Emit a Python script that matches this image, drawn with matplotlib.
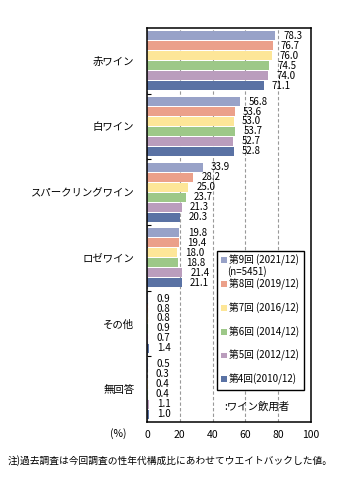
import matplotlib
matplotlib.use("Agg")
import matplotlib.pyplot as plt
from matplotlib.patches import Patch

plt.rcParams['font.family'] = ['Noto Sans CJK JP', 'DejaVu Sans']

categories = ["赤ワイン", "白ワイン", "スパークリングワイン", "ロゼワイン", "その他", "無回答"]
series_names = ["第9回 (2021/12)", "第8回 (2019/12)", "第7回 (2016/12)",
                "第6回 (2014/12)", "第5回 (2012/12)", "第4回(2010/12)"]
colors = ["#98a2c8", "#eba08a", "#fde698", "#9dc888", "#ba9dbd", "#5a72a4"]

# values per survey round, ordered like categories
r9 = [78.3, 56.8, 33.9, 19.8, 0.9, 0.5]
r8 = [76.7, 53.6, 28.2, 19.4, 0.8, 0.3]
r7 = [76.0, 53.0, 25.0, 18.0, 0.8, 0.4]
r6 = [74.5, 53.7, 23.7, 18.8, 0.9, 0.4]
r5 = [74.0, 52.7, 21.3, 21.4, 0.7, 1.1]
r4 = [71.1, 52.8, 20.3, 21.1, 1.4, 1.0]
series = [r9, r8, r7, r6, r5, r4]

x_ticks = [0, 20, 40, 60, 80, 100]

fig = plt.figure(figsize=(3.53, 4.90), dpi=100)
ax = fig.add_axes([0.4164, 0.1388, 0.4646, 0.8041])

step = 0.152
for j, vals in enumerate(series):
    ys = [i + (j - 2.5) * step for i in range(len(categories))]
    ax.barh(ys, vals, height=0.138, color=colors[j], edgecolor="none", zorder=2)
    for y, v in zip(ys, vals):
        ax.text(v + 5, y, f"{v:.1f}", va="center", ha="left", fontsize=7, zorder=3)

ax.set_xlim(0, 100)
ax.set_ylim(len(categories) - 0.5, -0.5)
ax.set_xticks(x_ticks)
ax.set_xticklabels([str(t) for t in x_ticks], fontsize=7.5)
ax.tick_params(axis="x", length=0, pad=6)
ax.set_yticks(range(len(categories)))
ax.set_yticklabels(categories, fontsize=7.5)
ax.tick_params(axis="y", which="major", length=0, pad=9)
ax.set_yticks([i + 0.5 for i in range(len(categories) - 1)], minor=True)
ax.tick_params(axis="y", which="minor", direction="in", length=3, width=0.8)
ax.grid(axis="x", linestyle=(0, (3, 2)), color="#999999", linewidth=0.8, zorder=0)
for s in ax.spines.values():
    s.set_linewidth(1.1)

handles = [Patch(facecolor=c, edgecolor="none") for c in colors]
leg = ax.legend(handles, series_names, loc="upper left", bbox_to_anchor=(0.427, 0.435),
                fontsize=7, frameon=True, fancybox=False, framealpha=1,
                edgecolor="black", handlelength=0.55, handleheight=0.55,
                handletextpad=0.25, labelspacing=1.28, borderpad=0.45, borderaxespad=0)
leg.get_frame().set_linewidth(1.0)
leg.set_zorder(5)
ax.text(0.488, 0.381, "(n=5451)", transform=ax.transAxes, fontsize=7,
        va="center", zorder=6)
ax.text(0.47, 0.04, ":ワイン飲用者", transform=ax.transAxes, fontsize=7.5,
        va="center", zorder=6)

fig.text(118 / 353, 1 - 434 / 490, "(%)", fontsize=7.5, ha="center", va="center")
fig.text(8 / 353, 1 - 461 / 490,
         "注)過去調査は今回調査の性年代構成比にあわせてウエイトバックした値。",
         fontsize=7, ha="left", va="center")

fig.savefig("out.png", dpi=100)
